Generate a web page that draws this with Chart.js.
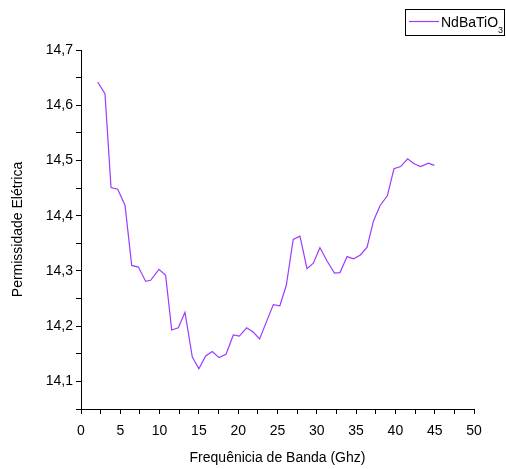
<!DOCTYPE html>
<html>
<head>
<meta charset="utf-8">
<script src="https://cdn.jsdelivr.net/npm/chart.js@4"></script>
<style>
  html, body { margin: 0; padding: 0; background: #fff; }
  #wrap { width: 506px; height: 469px; }
</style>
</head>
<body>
<div id="wrap"><canvas id="permissividade"></canvas></div>
<script>
// Permissividade eletrica x frequencia
const freq = [2.12, 3.05, 3.82, 4.67, 5.6, 6.45, 7.3, 8.23, 8.86, 9.92,
  10.77, 11.54, 12.38, 13.23, 14.16, 15.0, 15.86, 16.7, 17.56, 18.45,
  19.38, 20.14, 21.08, 21.93, 22.72, 24.47, 25.3, 26.12, 27.0, 27.86,
  28.75, 29.56, 30.4, 31.34, 32.25, 32.95, 33.85, 34.68, 35.55, 36.4,
  37.2, 38.04, 38.97, 39.82, 40.67, 41.56, 42.37, 43.2, 44.2, 44.95];
const permissividade = [14.642, 14.621, 14.451, 14.448, 14.419, 14.310, 14.307, 14.281, 14.283, 14.303,
  14.292, 14.193, 14.197, 14.225, 14.144, 14.123, 14.146, 14.154, 14.143, 14.149,
  14.184, 14.182, 14.197, 14.189, 14.177, 14.239, 14.237, 14.274, 14.357, 14.363,
  14.304, 14.314, 14.342, 14.317, 14.296, 14.297, 14.326, 14.322, 14.329, 14.343,
  14.390, 14.418, 14.436, 14.485, 14.489, 14.503, 14.494, 14.489, 14.495, 14.491];
const serie = 'NdBaTiO';
const cor = '#9B3CFF';

const ctx = document.getElementById('permissividade');
const fonte = { family: 'Liberation Sans, Arial, sans-serif', size: 14 };

// legenda com moldura, estilo Origin
const legenda = {
  id: 'legenda',
  afterDraw(chart) {
    const c = chart.ctx;
    c.save();
    c.strokeStyle = '#000';
    c.lineWidth = 1;
    c.strokeRect(405.5, 9.5, 99, 26);
    c.strokeStyle = cor;
    c.lineWidth = 1.2;
    c.beginPath();
    c.moveTo(409, 21.5);
    c.lineTo(439, 21.5);
    c.stroke();
    c.fillStyle = '#000';
    c.font = '14px Liberation Sans, Arial, sans-serif';
    c.textBaseline = 'alphabetic';
    c.fillText(serie, 441, 27);
    const w = c.measureText(serie).width;
    c.font = '9px Liberation Sans, Arial, sans-serif';
    c.fillText('3', 441 + w, 33);
    c.restore();
  }
};

new Chart(ctx, {
  type: 'line',
  data: {
    datasets: [{
      label: serie + '3',
      data: freq.map((x, i) => ({ x: x, y: permissividade[i] })),
      borderColor: cor,
      borderWidth: 1.2,
      pointRadius: 0,
      tension: 0,
      fill: false
    }]
  },
  options: {
    responsive: true,
    maintainAspectRatio: false,
    animation: false,
    layout: { padding: { left: 0, top: 50, right: 32, bottom: 0 } },
    plugins: {
      legend: { display: false },
      tooltip: { enabled: false }
    },
    scales: {
      x: {
        type: 'linear',
        min: 0,
        max: 50,
        afterFit: s => { s.height = 60; },
        ticks: {
          stepSize: 2.5,
          autoSkip: false,
          maxRotation: 0,
          padding: 9,
          color: '#000',
          font: fonte,
          callback: v => (Math.round(v * 10) % 50 === 0 ? String(v) : '')
        },
        grid: { drawOnChartArea: false, tickLength: 5, color: '#000' },
        border: { color: '#000', width: 1 },
        title: {
          display: true,
          text: 'Frequênicia de Banda (Ghz)',
          color: '#000',
          font: fonte,
          padding: { top: 0, bottom: 2 }
        }
      },
      y: {
        min: 14.05,
        max: 14.7,
        afterFit: s => { s.width = 81; },
        ticks: {
          stepSize: 0.05,
          autoSkip: false,
          padding: 3,
          color: '#000',
          font: fonte,
          callback: v => {
            const c = Math.round(v * 100);
            return c % 10 === 0 && c > 1405 ? (c / 100).toFixed(1).replace('.', ',') : '';
          }
        },
        grid: { drawOnChartArea: false, tickLength: 5, color: '#000' },
        border: { color: '#000', width: 1 },
        title: {
          display: true,
          text: 'Permissidade Elétrica',
          color: '#000',
          font: fonte,
          padding: { top: 10, bottom: 0 }
        }
      }
    }
  },
  plugins: [legenda]
});
</script>
</body>
</html>
